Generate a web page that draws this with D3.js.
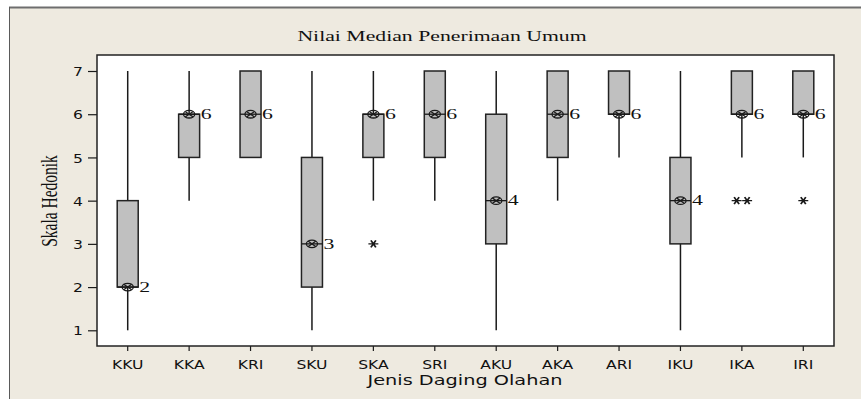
<!DOCTYPE html>
<html>
<head>
<meta charset="utf-8">
<script src="https://cdn.jsdelivr.net/npm/d3@7"></script>
<style>
  html, body { margin: 0; padding: 0; background: #ffffff; }
  svg { display: block; }
</style>
</head>
<body>
<svg id="chart" width="861" height="399"></svg>
<script>
// Hedonic-scale summaries per processed-meat type
const categories = ["KKU", "KKA", "KRI", "SKU", "SKA", "SRI", "AKU", "AKA", "ARI", "IKU", "IKA", "IRI"];
const whiskerLow  = [1, 4, 5, 1, 4, 4, 1, 4, 5, 1, 5, 5];
const q1          = [2, 5, 5, 2, 5, 5, 3, 5, 6, 3, 6, 6];
const median      = [2, 6, 6, 3, 6, 6, 4, 6, 6, 4, 6, 6];
const q3          = [4, 6, 7, 5, 6, 7, 6, 7, 7, 5, 7, 7];
const whiskerHigh = [7, 7, 7, 7, 7, 7, 7, 7, 7, 7, 7, 7];
const outliers    = [[], [], [], [], [3], [], [], [], [], [], [4, 4], [4]];
const yTicks = [1, 2, 3, 4, 5, 6, 7];

const chartTitle = "Nilai Median Penerimaan Umum";
const xTitle = "Jenis Daging Olahan";
const yTitle = "Skala Hedonik";

const rows = categories.map((c, i) => ({
  cat: c, lo: whiskerLow[i], q1: q1[i], med: median[i], q3: q3[i], hi: whiskerHigh[i], out: outliers[i]
}));

const svg = d3.select("#chart");
const W = 861, H = 399;
const plot = { left: 97, top: 55, right: 834, bottom: 346 };

const serif = "'Liberation Serif', 'Times New Roman', serif";
const sans = "'DejaVu Sans', Verdana, sans-serif";
const ink = "#1a1a1a";

// outer panel
svg.append("rect").attr("x", 9).attr("y", 7).attr("width", W - 9).attr("height", H - 7)
  .attr("fill", "#eeeae0");
svg.append("line").attr("x1", 9).attr("x2", W).attr("y1", 7.5).attr("y2", 7.5)
  .attr("stroke", "#6e6e6e").attr("stroke-width", 2);
svg.append("line").attr("x1", 9.5).attr("x2", 9.5).attr("y1", 7).attr("y2", H)
  .attr("stroke", "#5a5a5a").attr("stroke-width", 1);

// data region
svg.append("rect").attr("x", plot.left).attr("y", plot.top)
  .attr("width", plot.right - plot.left).attr("height", plot.bottom - plot.top)
  .attr("fill", "#ffffff");

const x = d3.scalePoint().domain(categories).range([plot.left, plot.right]).padding(0.5);
const y = d3.scaleLinear().domain([1, 7]).range([330.3, 71]);

// text helper with horizontal stretch
function stretchedText(g, tx, ty, str, opts) {
  return g.append("text")
    .attr("transform", `translate(${tx},${ty}) scale(${opts.sx || 1},1)${opts.rotate ? ` rotate(${opts.rotate})` : ""}`)
    .attr("font-family", opts.family)
    .attr("font-size", opts.size)
    .attr("text-anchor", opts.anchor || "start")
    .attr("fill", opts.fill || "#111")
    .text(str);
}

// axes
const yAxis = svg.append("g").attr("transform", `translate(${plot.left},0)`)
  .call(d3.axisLeft(y).tickValues(yTicks).tickFormat(d3.format("d")).tickSize(9).tickSizeOuter(0).tickPadding(5));
yAxis.select(".domain").remove();
yAxis.selectAll(".tick line").attr("stroke", ink).attr("stroke-width", 1.2);
yAxis.selectAll(".tick text")
  .attr("font-family", sans).attr("font-size", 13).attr("fill", "#111")
  .attr("x", -14 / 1.2).attr("dy", "0.36em")
  .attr("transform", "scale(1.2,1)");

const xAxis = svg.append("g").attr("transform", `translate(0,${plot.bottom})`)
  .call(d3.axisBottom(x).tickSize(5).tickSizeOuter(0).tickPadding(9));
xAxis.select(".domain").remove();
xAxis.selectAll(".tick line").attr("stroke", ink).attr("stroke-width", 1.2);
xAxis.selectAll(".tick text")
  .attr("font-family", sans).attr("font-size", 13).attr("fill", "#111")
  .attr("transform", "scale(1.2,1)");
xAxis.selectAll(".tick").each(function(d) {
  const px = x(d);
  d3.select(this).attr("transform", `translate(${px},0)`);
});

// border of data region
svg.append("rect").attr("x", plot.left).attr("y", plot.top)
  .attr("width", plot.right - plot.left).attr("height", plot.bottom - plot.top)
  .attr("fill", "none").attr("stroke", "#222").attr("stroke-width", 1.5);

// boxes
const boxW = 21;
const g = svg.append("g");
const groups = g.selectAll("g.box").data(rows).join("g").attr("class", "box")
  .attr("transform", d => `translate(${x(d.cat)},0)`);

groups.filter(d => d.hi > d.q3).append("line")
  .attr("x1", 0).attr("x2", 0).attr("y1", d => y(d.q3)).attr("y2", d => y(d.hi))
  .attr("stroke", ink).attr("stroke-width", 1.5);
groups.filter(d => d.lo < d.q1).append("line")
  .attr("x1", 0).attr("x2", 0).attr("y1", d => y(d.q1)).attr("y2", d => y(d.lo))
  .attr("stroke", ink).attr("stroke-width", 1.5);

groups.append("rect")
  .attr("x", -boxW / 2).attr("width", boxW)
  .attr("y", d => y(d.q3)).attr("height", d => y(d.q1) - y(d.q3))
  .attr("fill", "#c0c0c0").attr("stroke", "#222").attr("stroke-width", 1.5);

groups.append("line")
  .attr("x1", -boxW / 2).attr("x2", boxW / 2)
  .attr("y1", d => y(d.med)).attr("y2", d => y(d.med))
  .attr("stroke", ink).attr("stroke-width", 1.3);

// median marker: circled cross
groups.append("ellipse")
  .attr("cx", 0).attr("cy", d => y(d.med)).attr("rx", 5.6).attr("ry", 3.8)
  .attr("fill", "none").attr("stroke", ink).attr("stroke-width", 1.3);
const xMark = d3.symbol(d3.symbolX, 20);
groups.append("path")
  .attr("d", xMark)
  .attr("transform", d => `translate(0,${y(d.med)}) scale(1.45,1)`)
  .attr("fill", "none").attr("stroke", ink).attr("stroke-width", 1.1);

// median value labels
groups.each(function(d) {
  stretchedText(d3.select(this), boxW / 2 + 1, y(d.med) + 4.8, d3.format("d")(d.med),
    { family: serif, size: 15, sx: 1.45, fill: "#111" });
});

// outliers
const star = d3.symbol(d3.symbolAsterisk, 44);
groups.each(function(d) {
  const n = d.out.length;
  d.out.forEach((v, k) => {
    const off = n > 1 ? (k - (n - 1) / 2) * 10.5 : 0;
    d3.select(this).append("path")
      .attr("d", star)
      .attr("transform", `translate(${off},${y(v)}) scale(1.25,1) rotate(90)`)
      .attr("fill", "none").attr("stroke", ink).attr("stroke-width", 1.4);
  });
});

// titles
stretchedText(svg, 442, 40.5, chartTitle, { family: serif, size: 15, sx: 1.45, anchor: "middle" });
svg.append("text")
  .attr("x", 465).attr("y", 385)
  .attr("font-family", sans).attr("font-size", 14).attr("fill", "#111")
  .attr("text-anchor", "middle")
  .attr("textLength", 195).attr("lengthAdjust", "spacingAndGlyphs")
  .text(xTitle);
stretchedText(svg, 57, 201, yTitle, { family: serif, size: 15.5, sx: 1.45, anchor: "middle", rotate: -90 });
</script>
</body>
</html>
